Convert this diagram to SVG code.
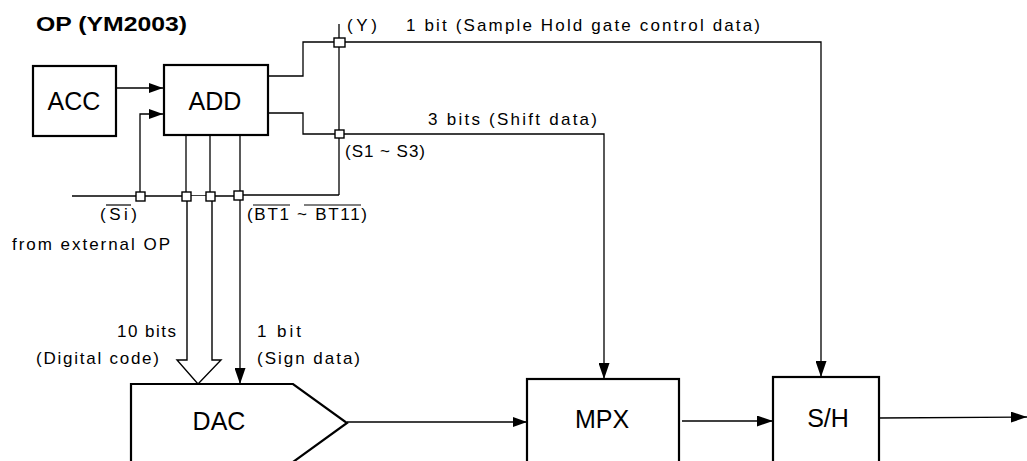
<svg xmlns="http://www.w3.org/2000/svg" width="1027" height="461" viewBox="0 0 1027 461">
<style>
.box{fill:#fff;stroke:#000;stroke-width:2.2}
.ln{fill:none;stroke:#000;stroke-width:1.3}
.jn{fill:#fff;stroke:#000;stroke-width:1.4}
.t{font-family:"Liberation Sans",Arial,sans-serif;fill:#000}
.s{font-size:17px}
.b{font-size:25px}
.ov{stroke:#000;stroke-width:1.2}
</style>
<defs>
<marker id="ah" viewBox="0 0 14 10" refX="14" refY="5" markerWidth="14" markerHeight="10" markerUnits="userSpaceOnUse" orient="auto">
<path d="M0,0 L14,5 L0,10 Z" fill="#000"/>
</marker>
<marker id="ahL" viewBox="0 0 16 11" refX="16" refY="5.5" markerWidth="16" markerHeight="11" markerUnits="userSpaceOnUse" orient="auto">
<path d="M0,0 L16,5.5 L0,11 Z" fill="#000"/>
</marker>
</defs>
<rect width="1027" height="461" fill="#fff"/>
<text class="t" x="36" y="31" font-size="21" font-weight="bold" textLength="151" lengthAdjust="spacingAndGlyphs">OP (YM2003)</text>

<g id="connectors">
<line class="ln" x1="117" y1="88" x2="163" y2="88" marker-end="url(#ah)"/>
<polyline class="ln" points="140,196 140,114 163,114" marker-end="url(#ah)"/>
<polyline class="ln" points="268,76 303,76 303,42 339,42"/>
<polyline class="ln" points="268,113 303,113 303,134 339,134"/>
<line class="ln" x1="339" y1="24" x2="339" y2="195"/>
<line class="ln" x1="72" y1="196" x2="238" y2="196"/>
<polyline class="ln" points="238,195 339,195"/>
<polyline class="ln" points="339,42 821,42 821,377" marker-end="url(#ahL)"/>
<polyline class="ln" points="339,134 604,134 604,379" marker-end="url(#ahL)"/>
<line class="ln" x1="186" y1="135" x2="186" y2="196"/>
<line class="ln" x1="210" y1="135" x2="210" y2="196"/>
<line class="ln" x1="240" y1="135" x2="240" y2="384" marker-end="url(#ahL)"/>
<path d="M187,196 L187,360 L177,360 L198,384 L221,360 L212,360 L212,196" fill="#fff" stroke="#000" stroke-width="1.4"/>
<line class="ln" x1="347" y1="422" x2="527" y2="422" marker-end="url(#ah)"/>
<line class="ln" x1="682" y1="421" x2="773" y2="421" marker-end="url(#ahL)"/>
<line class="ln" x1="879" y1="418" x2="1027" y2="417" marker-end="url(#ahL)"/>
<rect class="jn" x="334" y="38" width="11" height="9"/>
<rect class="jn" x="335" y="130" width="9" height="8"/>
<rect class="jn" x="136" y="192" width="9" height="9"/>
<rect class="jn" x="182" y="192" width="9" height="9"/>
<rect class="jn" x="206" y="192" width="9" height="9"/>
<rect class="jn" x="234" y="191" width="9" height="9"/>
</g>

<g id="acc">
<rect class="box" x="33" y="66" width="83" height="70"/>
<text class="t b" x="74" y="110" text-anchor="middle">ACC</text>
</g>
<g id="add">
<rect class="box" x="164" y="65" width="104" height="70" stroke-width="2.6"/>
<text class="t b" x="215" y="110" text-anchor="middle">ADD</text>
</g>
<g id="dac">
<polygon class="box" points="131,384 293,384 347,423 293,462 131,462" stroke-width="2.6"/>
<text class="t b" x="219" y="430" text-anchor="middle">DAC</text>
</g>
<g id="mpx">
<rect class="box" x="527" y="379" width="152" height="90"/>
<text class="t b" x="602" y="428" text-anchor="middle">MPX</text>
</g>
<g id="sh">
<rect class="box" x="773" y="377" width="106" height="92"/>
<text class="t b" x="828" y="427" text-anchor="middle">S/H</text>
</g>

<g id="labels">
<text class="t s" x="347" y="31" textLength="30" lengthAdjust="spacing">(Y)</text>
<text class="t s" x="406" y="31" textLength="354" lengthAdjust="spacing">1 bit (Sample Hold gate control data)</text>
<text class="t s" x="428" y="125" textLength="169" lengthAdjust="spacing">3 bits (Shift data)</text>
<text class="t s" x="345" y="157" textLength="80" lengthAdjust="spacing">(S1 ~ S3)</text>
<text class="t s" x="100" y="220" textLength="37" lengthAdjust="spacing">(Si)</text>
<line class="ov" x1="106" y1="205" x2="131" y2="205"/>
<text class="t s" x="247" y="220" textLength="120" lengthAdjust="spacing">(BT1 ~ BT11)</text>
<line class="ov" x1="253" y1="205" x2="290" y2="205"/>
<line class="ov" x1="304" y1="205" x2="361" y2="205"/>
<text class="t s" x="12" y="250" textLength="158" lengthAdjust="spacing">from external OP</text>
<text class="t s" x="117" y="337" textLength="59" lengthAdjust="spacing">10 bits</text>
<text class="t s" x="36" y="364" textLength="123" lengthAdjust="spacing">(Digital code)</text>
<text class="t s" x="257" y="337" textLength="44" lengthAdjust="spacing">1 bit</text>
<text class="t s" x="257" y="364" textLength="103" lengthAdjust="spacing">(Sign data)</text>
</g>
</svg>
